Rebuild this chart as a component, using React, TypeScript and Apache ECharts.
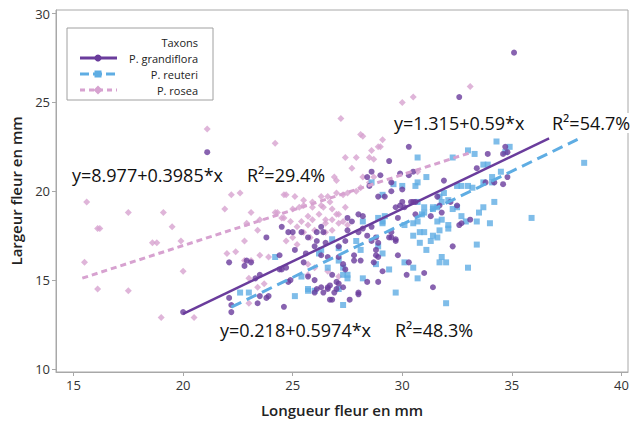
import React, { useEffect, useRef } from "react";
import * as echarts from "echarts";

const xTicks = [15, 20, 25, 30, 35, 40];
const yTicks = [10, 15, 20, 25, 30];

const grandiflora: number[][] = [
  [20.0, 13.2], [21.1, 22.2], [22.1, 16.0], [22.9, 16.1], [23.1, 16.0], [22.8, 15.8], [23.8, 17.4],
  [24.5, 18.0], [24.8, 17.7], [25.0, 17.7], [25.4, 17.7], [24.4, 16.4], [24.4, 15.6], [24.5, 15.6],
  [24.7, 15.7], [23.5, 15.3], [23.3, 15.1], [25.1, 16.7], [25.5, 16.0], [25.6, 16.5], [25.7, 15.2],
  [22.1, 14.0], [22.2, 13.6], [22.2, 13.2], [23.4, 13.7], [23.8, 14.0], [23.9, 14.1], [24.6, 13.5],
  [24.8, 14.9], [24.9, 15.0], [25.7, 17.4], [26.1, 17.7], [26.4, 17.7], [26.7, 14.7], [27.1, 14.8],
  [26.9, 14.3], [27.0, 14.5], [26.1, 14.5], [26.6, 14.5], [27.8, 16.4], [28.1, 16.1], [28.7, 16.0],
  [28.4, 14.9], [28.9, 14.9], [29.4, 17.4], [29.7, 17.2], [30.2, 15.3], [31.0, 15.4], [27.5, 17.8],
  [28.0, 17.7], [28.4, 17.5], [28.0, 14.3], [26.7, 13.9], [27.6, 13.9], [23.5, 14.1], [27.5, 18.5],
  [28.0, 18.7], [28.2, 18.6], [28.2, 17.9], [28.6, 18.0], [28.8, 17.4], [28.9, 17.1], [28.6, 17.2],
  [29.5, 17.7], [29.5, 17.4], [29.9, 19.2], [30.1, 19.1], [29.7, 19.1], [30.5, 19.4], [30.6, 19.4],
  [27.4, 17.2], [27.1, 16.9], [26.5, 17.1], [26.0, 16.9], [26.1, 17.2], [26.3, 16.4], [26.6, 16.3],
  [27.1, 16.3], [27.8, 16.1], [27.3, 15.9], [27.4, 15.6], [28.8, 16.7], [28.8, 16.4], [28.9, 16.3],
  [29.7, 17.3], [29.8, 16.4], [29.1, 15.5], [26.8, 15.3], [27.0, 14.9], [26.6, 14.6], [26.4, 14.3],
  [26.3, 14.6], [26.0, 15.0], [26.0, 14.3], [26.8, 13.9], [28.0, 14.2], [27.3, 14.6], [30.3, 16.0],
  [31.4, 14.6], [32.3, 16.9], [31.8, 18.8], [30.3, 22.5], [29.4, 21.7], [28.6, 21.1], [29.0, 20.9],
  [29.5, 20.5], [29.9, 21.0], [30.3, 20.9], [30.5, 21.1], [28.4, 20.8], [28.5, 20.3], [28.9, 19.7],
  [29.2, 19.7], [29.5, 20.0], [30.0, 20.1], [30.0, 19.4], [30.4, 19.4], [27.7, 18.3], [29.8, 18.5],
  [30.6, 18.7], [31.3, 18.6], [26.3, 18.0], [35.1, 27.8], [32.6, 25.3], [34.7, 22.5], [34.8, 22.2],
  [34.6, 22.1], [33.9, 22.1], [33.4, 21.3], [31.9, 20.6], [34.6, 20.4], [34.8, 20.8], [33.8, 20.5],
  [34.2, 20.5], [32.5, 19.2], [32.2, 19.4], [31.7, 19.2], [31.6, 19.7], [33.1, 18.4], [32.7, 18.2],
  [32.6, 18.1]
];

const reuteri: number[][] = [
  [22.6, 14.3], [23.0, 14.3], [24.2, 16.3], [25.4, 15.2], [25.7, 14.5], [25.1, 14.1], [25.7, 14.4],
  [26.0, 14.4], [26.8, 17.3], [27.1, 16.8], [26.6, 15.7], [27.3, 15.7], [27.3, 15.3], [27.3, 13.6],
  [27.5, 15.1], [26.3, 16.7], [26.2, 16.5], [27.9, 17.2], [28.1, 16.7], [28.9, 16.9], [29.1, 16.5],
  [28.2, 15.1], [27.5, 15.3], [27.1, 16.1], [27.1, 14.5], [29.7, 14.3], [28.8, 15.9], [29.4, 15.6],
  [30.1, 16.0], [30.5, 15.7], [30.7, 15.1], [30.5, 17.5], [30.8, 17.1], [31.1, 16.7], [31.3, 17.2],
  [31.4, 17.5], [30.8, 17.7], [31.7, 17.8], [32.1, 17.9], [31.6, 17.4], [30.1, 18.1], [30.5, 18.2],
  [31.8, 16.3], [31.7, 16.0], [32.0, 16.0], [32.0, 13.7], [29.1, 18.2], [29.2, 18.6], [28.9, 18.5],
  [30.9, 18.7], [31.0, 18.8], [31.4, 19.0], [31.8, 19.4], [31.6, 19.1], [32.5, 19.1], [32.1, 18.1],
  [31.0, 17.7], [32.7, 18.6], [32.9, 18.3], [33.4, 18.3], [34.0, 18.2], [33.5, 18.8], [33.7, 19.1],
  [34.2, 19.4], [35.9, 18.5], [33.4, 17.0], [33.0, 15.7], [34.3, 22.8], [34.9, 22.5], [34.7, 22.2],
  [33.0, 22.3], [33.3, 22.1], [32.3, 21.9], [33.7, 21.5], [33.9, 21.5], [38.3, 21.6], [34.5, 21.1],
  [34.1, 20.8], [33.0, 20.3], [32.5, 20.3], [32.7, 20.3], [33.2, 20.2], [33.7, 20.5], [34.1, 20.5],
  [31.9, 19.9], [31.7, 19.7], [32.1, 19.5], [32.3, 19.0], [31.8, 18.4], [31.6, 18.3], [30.7, 21.9],
  [31.1, 20.8], [30.7, 20.5], [28.6, 20.5], [29.6, 20.4], [30.0, 20.3], [30.6, 20.3], [29.1, 19.8],
  [30.7, 19.4], [31.0, 19.1], [31.4, 19.1], [28.2, 18.3], [29.1, 18.3], [30.7, 18.3]
];

const rosea: number[][] = [
  [21.1, 23.5], [15.6, 19.4], [17.5, 18.8], [19.1, 18.8], [16.1, 17.9], [16.2, 17.9], [19.5, 18.0],
  [21.9, 19.0], [22.2, 19.8], [22.6, 19.9], [18.8, 17.1], [18.6, 17.1], [19.9, 17.2], [15.5, 16.0],
  [20.0, 15.5], [22.0, 16.5], [22.4, 16.6], [22.8, 17.2], [22.9, 18.2], [16.1, 14.5], [17.5, 14.4],
  [19.0, 12.9], [20.5, 12.9], [24.6, 19.8], [24.3, 18.8], [25.0, 19.0], [25.3, 19.1], [25.5, 19.2],
  [25.7, 18.6], [23.4, 17.8], [22.8, 16.1], [23.1, 16.1], [23.5, 16.4], [23.9, 16.3], [23.0, 15.1],
  [23.4, 14.6], [23.7, 14.8], [24.6, 18.5], [24.9, 18.3], [25.2, 18.0], [25.0, 17.4], [24.7, 17.2],
  [25.2, 17.0], [25.5, 17.7], [23.0, 13.7], [30.5, 25.3], [30.0, 25.0], [27.2, 24.1], [24.2, 22.7],
  [28.1, 23.2], [28.2, 23.1], [29.1, 22.9], [28.9, 22.5], [28.6, 22.3], [29.0, 22.5], [27.4, 21.9],
  [27.9, 21.9], [28.5, 21.9], [28.7, 21.8], [27.7, 21.3], [26.9, 20.8], [27.0, 20.6], [28.2, 20.8],
  [28.5, 20.5], [28.7, 20.8], [28.1, 20.2], [27.9, 20.0], [27.5, 19.9], [27.3, 19.8], [27.0, 19.9],
  [26.6, 19.7], [24.7, 19.8], [25.1, 19.7], [25.5, 19.5], [25.9, 19.4], [26.3, 19.7], [26.4, 19.1],
  [26.8, 19.0], [27.1, 18.7], [27.4, 19.1], [23.1, 18.8], [23.5, 18.4], [24.2, 18.8], [24.5, 18.5],
  [25.4, 18.3], [25.7, 18.1], [25.9, 18.4], [26.5, 18.2], [26.8, 18.4], [27.3, 18.3], [27.5, 18.1],
  [30.7, 21.1], [33.1, 25.9], [25.9, 19.1], [26.3, 19.2], [26.7, 19.4], [26.2, 18.7], [26.5, 18.4],
  [27.0, 18.7], [27.1, 18.2], [26.8, 17.8], [26.5, 17.7], [26.0, 17.8], [25.8, 17.4], [25.7, 15.9],
  [26.0, 15.7], [26.6, 15.5], [27.1, 15.2], [25.7, 15.3]
];

// Fitted regression lines (end points over each taxon's length range)
const fitGrandiflora: number[][] = [[20.0, 13.1], [36.7, 22.97]];
const fitReuteri: number[][] = [[22.2, 13.48], [38.0, 22.92]];
const fitRosea: number[][] = [[15.4, 15.11], [33.1, 22.17]];

const eqTexts = [
  { eq: "y=8.977+0.3985*x", r2: "R²=29.4%" },
  { eq: "y=1.315+0.59*x", r2: "R²=54.7%" },
  { eq: "y=0.218+0.5974*x", r2: "R²=48.3%" }
];

const names = ["P. grandiflora", "P. reuteri", "P. rosea"];
const colors = ["#6a3c9c", "#5fade3", "#d7a2d0"];

const FONT = "'Open Sans', 'Noto Sans', sans-serif";

export default function App() {
  const ref = useRef<HTMLDivElement>(null);
  useEffect(() => {
    if (!ref.current) return;
    const chart = echarts.init(ref.current, null, { renderer: "svg" });
    const axisGray = "#a8a8a8";
    const eqStyle = { font: `18px ${FONT}`, fill: "#111", backgroundColor: "#fff", padding: [1, 2], verticalAlign: "middle" };
    const legendIcon = (i: number, y: number) => {
      const c = colors[i];
      const line = {
        type: "line",
        shape: { x1: 80, y1: y, x2: 117, y2: y },
        style: { stroke: c, lineWidth: 3, lineDash: i === 0 ? null : i === 1 ? [9, 4] : [5, 4] }
      };
      let marker: any;
      if (i === 0) marker = { type: "circle", shape: { cx: 98, cy: y, r: 3.5 }, style: { fill: c } };
      else if (i === 1) marker = { type: "rect", shape: { x: 94.5, y: y - 3.5, width: 7, height: 7 }, style: { fill: c } };
      else marker = { type: "polygon", shape: { points: [[98, y - 4.5], [102.5, y], [98, y + 4.5], [93.5, y]] }, style: { fill: c } };
      return [line, marker];
    };
    const option: any = {
      animation: false,
      grid: { left: 55, right: 4, top: 10, bottom: 52, show: true, borderColor: axisGray, borderWidth: 1, backgroundColor: "#fff" },
      xAxis: {
        type: "value",
        min: 14.2,
        max: 40.3,
        name: "Longueur fleur en mm",
        nameLocation: "middle",
        nameGap: 30,
        nameTextStyle: { fontFamily: FONT, fontSize: 15, fontWeight: 600, color: "#222" },
        axisLine: { show: true, lineStyle: { color: axisGray } },
        axisTick: { show: true, length: 4, inside: false, customValues: xTicks, lineStyle: { color: axisGray } },
        axisLabel: { customValues: xTicks, fontFamily: FONT, fontSize: 13, color: "#333", margin: 6 },
        splitLine: { show: false }
      },
      yAxis: {
        type: "value",
        min: 9.83,
        max: 30.2,
        name: "Largeur fleur en mm",
        nameLocation: "middle",
        nameGap: 33,
        nameTextStyle: { fontFamily: FONT, fontSize: 15, fontWeight: 600, color: "#222" },
        axisLine: { show: true, lineStyle: { color: axisGray } },
        axisTick: { show: true, length: 4, inside: false, customValues: yTicks, lineStyle: { color: axisGray } },
        axisLabel: { customValues: yTicks, fontFamily: FONT, fontSize: 13, color: "#333", margin: 6 },
        splitLine: { show: false }
      },
      series: [
        { name: names[2], type: "scatter", data: rosea, symbol: "diamond", symbolSize: 7, itemStyle: { color: colors[2] }, z: 2 },
        { name: names[1], type: "scatter", data: reuteri, symbol: "rect", symbolSize: 6, itemStyle: { color: colors[1] }, z: 2 },
        { name: names[0], type: "scatter", data: grandiflora, symbol: "circle", symbolSize: 6, itemStyle: { color: colors[0] }, z: 3 },
        { name: names[2] + " fit", type: "line", data: fitRosea, showSymbol: false, symbol: "none", lineStyle: { color: colors[2], width: 3, type: [6, 4] }, z: 4 },
        { name: names[1] + " fit", type: "line", data: fitReuteri, showSymbol: false, symbol: "none", lineStyle: { color: colors[1], width: 3, type: [11, 6] }, z: 4 },
        { name: names[0] + " fit", type: "line", data: fitGrandiflora, showSymbol: false, symbol: "none", lineStyle: { color: colors[0], width: 2.5 }, z: 5 }
      ],
      graphic: [
        { type: "text", x: 70, y: 175, z: 100, style: { ...eqStyle, text: eqTexts[0].eq } },
        { type: "text", x: 245, y: 175, z: 100, style: { ...eqStyle, text: eqTexts[0].r2 } },
        { type: "text", x: 392, y: 123, z: 100, style: { ...eqStyle, text: eqTexts[1].eq } },
        { type: "text", x: 550, y: 123, z: 100, style: { ...eqStyle, text: eqTexts[1].r2 } },
        { type: "text", x: 218, y: 330, z: 100, style: { ...eqStyle, text: eqTexts[2].eq } },
        { type: "text", x: 393, y: 330, z: 100, style: { ...eqStyle, text: eqTexts[2].r2 } },
        {
          type: "group",
          z: 100,
          children: [
            { type: "rect", shape: { x: 67, y: 28, width: 146, height: 72 }, style: { fill: "#fff", stroke: "#a0a0a0", lineWidth: 1 } },
            { type: "text", x: 198, y: 42, style: { text: "Taxons", font: `11px ${FONT}`, fill: "#222", align: "right", verticalAlign: "middle" } },
            ...legendIcon(0, 58),
            { type: "text", x: 198, y: 58, style: { text: names[0], font: `11px ${FONT}`, fill: "#222", align: "right", verticalAlign: "middle" } },
            ...legendIcon(1, 74),
            { type: "text", x: 198, y: 74, style: { text: names[1], font: `11px ${FONT}`, fill: "#222", align: "right", verticalAlign: "middle" } },
            ...legendIcon(2, 90),
            { type: "text", x: 198, y: 90, style: { text: names[2], font: `11px ${FONT}`, fill: "#222", align: "right", verticalAlign: "middle" } }
          ]
        }
      ]
    };
    chart.setOption(option);
    return () => chart.dispose();
  }, []);
  return <div ref={ref} style={{ width: 632, height: 424, position: "absolute", left: 0, top: 0, background: "#fff" }} />;
}
